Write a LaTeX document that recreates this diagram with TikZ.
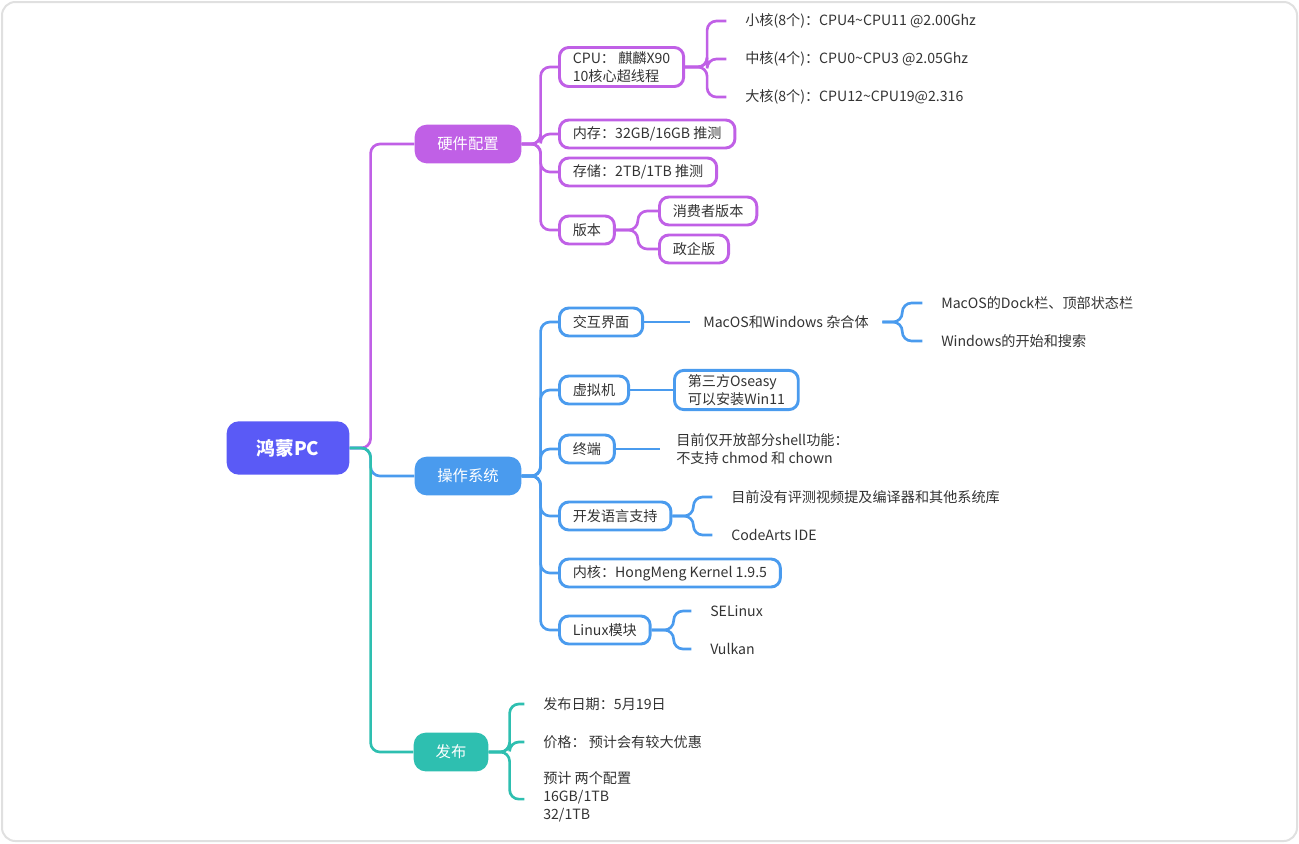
\documentclass[tikz,border=0pt]{standalone}
\usepackage{fontspec}
\setmainfont{Noto Sans CJK SC}
\definecolor{hwc}{HTML}{C060E6}
\definecolor{osc}{HTML}{4A9BEE}
\definecolor{pbc}{HTML}{2EBFB0}
\definecolor{rootc}{HTML}{5A5AF6}
\tikzset{
  every node/.style={font=\fontsize{10.6}{13.5}\selectfont, text=black!80},
  root/.style={fill=rootc, rounded corners=9pt, minimum width=92pt, minimum height=40pt,
    text=white, font=\fontsize{14}{16}\bfseries},
  main/.style={fill=#1, rounded corners=9pt, minimum width=80pt, minimum height=29pt,
    text=white, font=\fontsize{11.5}{13}\selectfont},
  box/.style={draw=#1, line width=2.2pt, rounded corners=7pt, anchor=west, align=left,
    inner xsep=10pt, inner ysep=3pt, minimum height=21pt},
  leaf/.style={anchor=west, align=left, inner sep=0pt},
  wire/.style={draw=#1, line width=2pt, rounded corners=7pt},
}
\newcommand\branch[4]{\draw[wire=#1] (#2.east) -- ++(#3,0) |- (#4.west);}
\newcommand\twig[4]{\draw[wire=#1] (#2.east) -- ++(#3,0) |- ([xshift=-14pt]#4.west);}
\begin{document}
\begin{tikzpicture}[x=0.75pt,y=-0.75pt]
  \useasboundingbox (0,0) rectangle (1299,843);
  \draw[black!12, line width=1.5pt, rounded corners=10pt] (2,2) rectangle (1297,841);

  \node[root] (pc) at (288,448) {鸿蒙PC};
  \node[main=hwc] (hw) at (468,144) {硬件配置};
  \node[main=osc] (os) at (468,476) {操作系统};
  \node[main=pbc, minimum width=56pt] (pub) at (451,752) {发布};
  \branch{hwc}{pc}{21}{hw}
  \branch{osc}{pc}{21}{os}
  \branch{pbc}{pc}{21}{pub}

  % hardware
  \node[box=hwc] (cpu) at (558,67) {CPU： 麒麟X90\\10核心超线程};
  \node[box=hwc] (mem) at (558,134) {内存：32GB/16GB 推测};
  \node[box=hwc] (disk) at (558,172) {存储：2TB/1TB 推测};
  \node[box=hwc] (ver) at (558,230) {版本};
  \foreach \n in {cpu,mem,disk,ver}
    {\branch{hwc}{hw}{19}{\n}}
  \node[leaf] (small) at (745,21) {小核(8个)：CPU4\textasciitilde CPU11 @2.00Ghz};
  \node[leaf] (mid) at (745,59) {中核(4个)：CPU0\textasciitilde CPU3 @2.05Ghz};
  \node[leaf] (big) at (745,97) {大核(8个)：CPU12\textasciitilde CPU19@2.316};
  \foreach \n in {small,mid,big}
    {\twig{hwc}{cpu}{22}{\n}}
  \node[box=hwc] (cons) at (658,211) {消费者版本};
  \node[box=hwc] (gov) at (658,249) {政企版};
  \foreach \n in {cons,gov}
    {\branch{hwc}{ver}{22}{\n}}

  % os
  \node[box=osc] (ui) at (558,322) {交互界面};
  \node[box=osc] (vm) at (558,390) {虚拟机};
  \node[box=osc] (term) at (558,449) {终端};
  \node[box=osc] (lang) at (558,516) {开发语言支持};
  \node[box=osc] (kern) at (558,573) {内核：HongMeng Kernel 1.9.5};
  \node[box=osc] (lnx) at (558,630) {Linux模块};
  \foreach \n in {ui,vm,term,lang,kern,lnx}
    {\branch{osc}{os}{19}{\n}}
  \node[leaf] (mix) at (703,322) {MacOS和Windows 杂合体};
  \draw[wire=osc] (ui.east) -- ([xshift=-10pt]mix.west);
  \node[leaf] (dock) at (941,303) {MacOS的Dock栏、顶部状态栏};
  \node[leaf] (start) at (941,341) {Windows的开始和搜索};
  \foreach \n in {dock,start}
    \draw[wire=osc] ([xshift=10pt]mix.east) -- ++(20,0) |- ([xshift=-14pt]\n.west);
  \node[box=osc] (osea) at (673,390) {第三方Oseasy\\可以安装Win11};
  \draw[wire=osc] (vm.east) -- (osea.west);
  \node[leaf] (shell) at (676,449) {目前仅开放部分shell功能：\\不支持 chmod 和 chown};
  \draw[wire=osc] (term.east) -- ([xshift=-12pt]shell.west);
  \node[leaf] (eval) at (731,497) {目前没有评测视频提及编译器和其他系统库};
  \node[leaf] (ide) at (731,535) {CodeArts IDE};
  \foreach \n in {eval,ide}
    {\twig{osc}{lang}{21}{\n}}
  \node[leaf] (selx) at (710,611) {SELinux};
  \node[leaf] (vulk) at (710,649) {Vulkan};
  \foreach \n in {selx,vulk}
    {\twig{osc}{lnx}{22}{\n}}

  % publish
  \node[leaf] (date) at (543,704) {发布日期：5月19日};
  \node[leaf] (price) at (543,742) {价格： 预计会有较大优惠};
  \node[leaf, anchor=north west] (cfg) at (543,771) {预计 两个配置\\16GB/1TB\\32/1TB};
  \foreach \n in {date,price}
    {\twig{pbc}{pub}{21}{\n}}
  \draw[wire=pbc] (pub.east) -- ++(21,0) |- ([xshift=-14pt,yshift=-2pt]cfg.west);
\end{tikzpicture}
\end{document}
